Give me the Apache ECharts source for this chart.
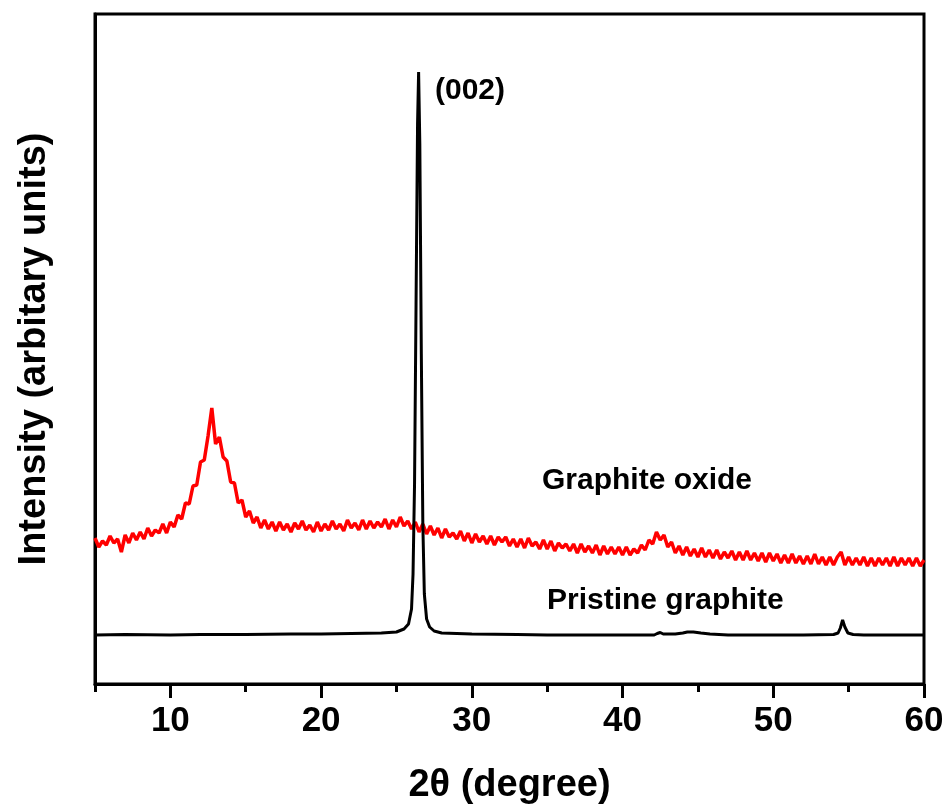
<!DOCTYPE html>
<html>
<head>
<meta charset="utf-8">
<script src="https://cdn.jsdelivr.net/npm/echarts@6/dist/echarts.min.js"></script>
<style>html,body{margin:0;padding:0;background:#fff}#c{width:947px;height:805px}</style>
</head>
<body>
<div id="c"></div>
<script>
// X tick labels (major) and minor tick positions
const majorTicks = [10, 20, 30, 40, 50, 60];
const minorTicks = [5, 15, 25, 35, 45, 55];

// Graphite oxide (red): sampled from 5 deg every 0.25 deg
const oxideStart = 5, oxideStep = 0.25;
const oxideY = [
146,137,143,139,148,141,145,132,149,141,151,144,152,145,156,148,154,151,160,151,
162,157,169,165,181,180,198,199,222,224,248,276,240,247,227,223,202,201,181,184,
167,173,161,167,156,164,155,162,153,162,154,160,152,161,155,163,154,159,152,162,
153,160,154,163,155,160,153,164,156,161,154,164,155,163,156,162,157,165,155,164,
157,167,158,163,155,162,152,160,150,158,149,156,146,155,147,151,145,153,143,151,
141,150,142,148,140,148,139,147,142,147,138,145,137,145,136,146,138,142,135,144,
135,143,133,141,136,140,133,140,131,140,132,138,131,139,129,138,130,137,130,137,
129,137,129,135,131,139,134,144,140,152,144,149,137,142,131,138,129,137,128,135,
127,136,127,134,126,134,125,132,126,133,124,132,124,133,124,131,123,131,122,131,
123,130,121,129,121,130,121,128,120,128,120,130,120,127,119,127,119,127,132,119,
127,119,126,119,127,118,126,118,126,119,126,118,127,118,126,119,126,118,126,118,
124
];

// Pristine graphite (black): [2theta, intensity]
const graphite = [
[5,49],[7,49.5],[10,49],[12,49.5],[15,49.5],[18,50],[20,50],[22,50.5],[24,51],[25,52],
[25.5,55],[25.8,60],[26.0,75],[26.1,110],[26.2,200],[26.3,380],[26.4,560],[26.47,612],
[26.55,540],[26.65,330],[26.75,160],[26.85,90],[27.0,65],[27.2,57],[27.5,53],[28,51],
[30,50],[33,49.5],[35,49],[38,49],[40,49],[42.1,49],[42.3,50.5],[42.5,51.5],[42.7,50],
[43.5,50],[44.0,51],[44.3,52],[44.7,52],[45.2,51],[45.8,50],[47,49],[50,49],[52,49],
[54,49.5],[54.3,51],[54.45,56],[54.6,64],[54.75,57],[54.95,51],[55.3,49.5],[56,49],
[58,49],[60,49]
];

const oxideData = oxideY.map((v, i) => [oxideStart + i * oxideStep, v]);

const FONT = "'Liberation Sans', Arial, Helvetica, sans-serif";
const chart = echarts.init(document.getElementById('c'), null, {renderer: 'canvas'});
chart.setOption({
  animation: false,
  backgroundColor: '#fff',
  grid: {left: 95, right: 23, top: 14, bottom: 121, show: true, borderColor: '#000', borderWidth: 3, backgroundColor: 'transparent', outerBoundsMode: 'none', containLabel: false},
  xAxis: [{
    type: 'value', min: 5, max: 60,
    name: '2θ (degree)', nameLocation: 'middle', nameGap: 83,
    nameTextStyle: {fontFamily: FONT, fontWeight: 'bold', fontSize: 38, color: '#000'},
    axisLine: {show: true, onZero: false, lineStyle: {color: '#000', width: 3}},
    axisTick: {show: true, length: 14, lineStyle: {color: '#000', width: 3}, customValues: majorTicks},
    axisLabel: {show: true, margin: 20, fontFamily: FONT, fontWeight: 'bold', fontSize: 35, color: '#000', customValues: majorTicks},
    splitLine: {show: false}
  }, {
    type: 'value', min: 5, max: 60, position: 'bottom',
    axisLine: {show: false},
    axisTick: {show: true, length: 8, lineStyle: {color: '#000', width: 3}, customValues: minorTicks},
    axisLabel: {show: false},
    splitLine: {show: false}
  }],
  yAxis: {
    type: 'value', min: 0, max: 670,
    name: 'Intensity (arbitary units)', nameLocation: 'middle', nameGap: 41,
    nameTextStyle: {fontFamily: FONT, fontWeight: 'bold', fontSize: 38, color: '#000'},
    axisLine: {show: true, lineStyle: {color: '#000', width: 3}},
    axisTick: {show: false}, axisLabel: {show: false}, splitLine: {show: false}
  },
  series: [{
    name: 'Graphite oxide', type: 'line', data: oxideData, showSymbol: false, symbol: 'none',
    sampling: 'none', lineStyle: {color: '#ff0000', width: 3.5}, z: 2
  }, {
    name: 'Pristine graphite', type: 'line', data: graphite, showSymbol: false, symbol: 'none',
    sampling: 'none', lineStyle: {color: '#000', width: 3}, z: 3
  }],
  graphic: [
    {type: 'text', left: 435, top: 76, style: {text: '(002)', fontFamily: FONT, fontWeight: 'bold', fontSize: 30, fill: '#000'}},
    {type: 'text', left: 542, top: 466, style: {text: 'Graphite oxide', fontFamily: FONT, fontWeight: 'bold', fontSize: 30, fill: '#000'}},
    {type: 'text', left: 547, top: 586, style: {text: 'Pristine graphite', fontFamily: FONT, fontWeight: 'bold', fontSize: 30, fill: '#000'}}
  ]
});
</script>
</body>
</html>
